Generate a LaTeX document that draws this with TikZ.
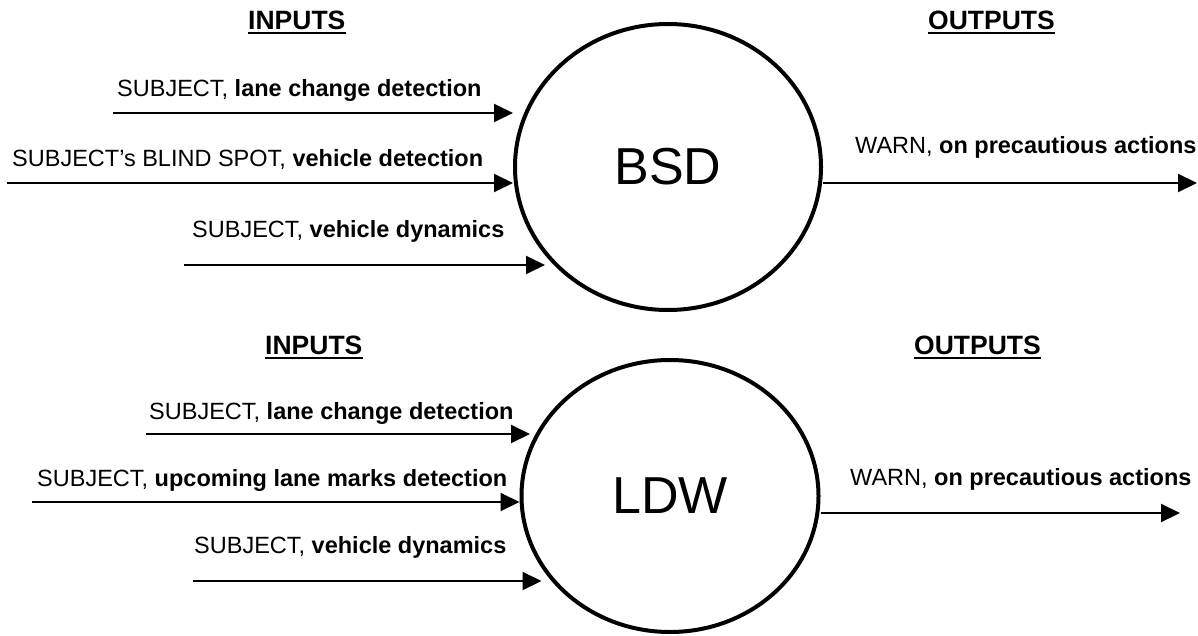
\documentclass[tikz,border=0pt]{standalone}
\usepackage{fontspec}
\setmainfont{Liberation Sans}
\usetikzlibrary{arrows.meta,shapes.geometric}

\tikzset{
  func/.style={draw, ellipse, line width=4pt, inner sep=0pt, font=\fontsize{52}{60}\selectfont},
  flow/.style={line width=2pt, -{Triangle[length=19pt,width=18pt]}},
  lbl/.style={inner sep=0pt, anchor=base west, font=\fontsize{23.5}{28}\selectfont},
  head/.style={inner sep=0pt, anchor=base west, font=\fontsize{26.5}{32}\selectfont\bfseries},
  uline/.style={line width=2pt}
}

\begin{document}
\begin{tikzpicture}[x=1pt, y=-1pt]
  \useasboundingbox (0,0) rectangle (1198,636);

  %Define nodes
  \node[func, minimum width=306pt, minimum height=286pt] (bsd) at (668,167) {BSD};
  \node[func, minimum width=297pt, minimum height=272pt] (ldw) at (670,496) {LDW};

  \node[head] (inb) at (248,30) {INPUTS};
  \node[head] (outb) at (928,30) {OUTPUTS};
  \node[head] (inl) at (265,354) {INPUTS};
  \node[head] (outl) at (914,354) {OUTPUTS};
  \foreach \h in {inb,outb,inl,outl}
    \draw[uline] ([yshift=-3.5pt]\h.base west) -- ([yshift=-3.5pt]\h.base east);

  \node[lbl] (bl1) at (117,97) {SUBJECT, \textbf{lane change detection}};
  \node[lbl] (bl2) at (12,167) {SUBJECT’s BLIND SPOT, \textbf{vehicle detection}};
  \node[lbl] (bl3) at (192,237) {SUBJECT, \textbf{vehicle dynamics}};
  \node[lbl] (bw) at (855,154) {WARN, \textbf{on precautious actions}};

  \node[lbl] (ll1) at (149,419) {SUBJECT, \textbf{lane change detection}};
  \node[lbl] (ll2) at (37,486) {SUBJECT, \textbf{upcoming lane marks detection}};
  \node[lbl] (ll3) at (194,553) {SUBJECT, \textbf{vehicle dynamics}};
  \node[lbl] (lw) at (850,485) {WARN, \textbf{on precautious actions}};

  \coordinate (b1) at (113,113);
  \coordinate (b2) at (7,183);
  \coordinate (b3) at (184,265);
  \coordinate (bo) at (1197,183);
  \coordinate (l1) at (146,434);
  \coordinate (l2) at (32,502);
  \coordinate (l3) at (193,581);
  \coordinate (lo) at (1180,513);

  % Connect the nodes
  \draw[flow] (b1) -- (b1 -| bsd.west);
  \draw[flow] (b2) -- (b2 -| bsd.west);
  \draw[flow] (b3) -- ([xshift=32pt]b3 -| bsd.west);
  \draw[flow] (bo -| bsd.east) -- (bo);

  \draw[flow] (l1) -- ([xshift=10.5pt]l1 -| ldw.west);
  \draw[flow] (l2) -- (l2 -| ldw.west);
  \draw[flow] (l3) -- ([xshift=22pt]l3 -| ldw.west);
  \draw[flow] (lo -| ldw.east) -- (lo);

\end{tikzpicture}
\end{document}
